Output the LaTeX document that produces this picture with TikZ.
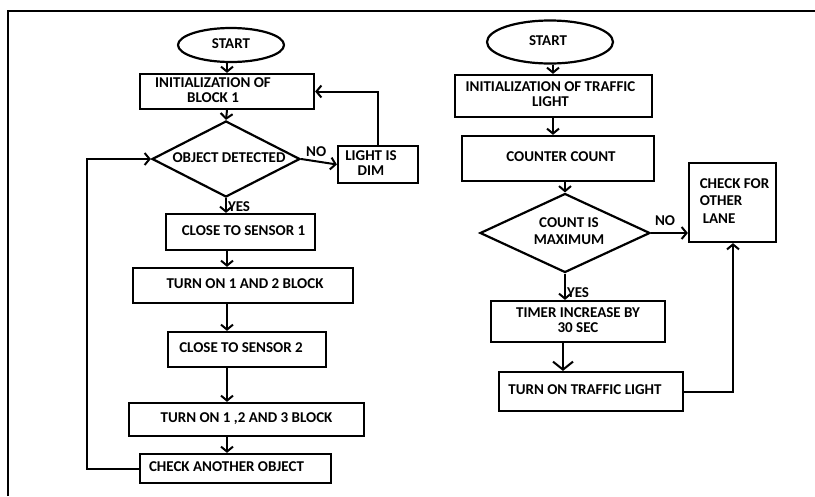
\documentclass[tikz,border=0pt]{standalone}
\usepackage{fontspec}
\setmainfont{Carlito}
\usetikzlibrary{shapes.geometric,arrows.meta}
\newcommand\sft[2]{\makebox[0pt]{\hspace*{#1}\hspace*{#1}\begin{tabular}{@{}c@{}}#2\end{tabular}}}
\newcommand\sftl[2]{\makebox[0pt]{\hspace*{#1}\hspace*{#1}\begin{tabular}{@{}l@{}}#2\end{tabular}}}
\tikzset{
  lbl/.style={font=\fontsize{15}{15}\selectfont\bfseries},
  box/.style={draw, line width=2.2pt, rectangle, inner sep=0pt, lbl},
  oval/.style={draw, line width=2.2pt, ellipse, inner sep=0pt, lbl},
  dia/.style={draw, line width=2.2pt, diamond, inner sep=0pt, lbl},
  arr/.style={line width=2pt, -{Straight Barb[length=5pt,width=12pt]}},
  bigarr/.style={line width=2pt, -{Straight Barb[length=8pt,width=20pt]}},
  tag/.style={lbl, inner sep=1pt}
}
\begin{document}
\begin{tikzpicture}[x=1pt,y=-1pt]
\useasboundingbox (0,0) rectangle (815,496);
% outer frame
\draw[line width=1.6pt] (8,496) -- (8,11) -- (815,11);

% ---------- left flow ----------
\coordinate (colL) at (227,0);
\coordinate (lx) at (87,0);
\node[oval, minimum width=106, minimum height=34] (start1) at (231,45) {\sft{0pt}{START}};
\node[box, minimum width=174, minimum height=35] (init1) at (227,91.5) {\sft{-14pt}{INITIALIZATION OF\\BLOCK 1}};
\node[dia, minimum width=148, minimum height=76] (d1) at (226,159) {\sft{3pt}{OBJECT DETECTED}};
\node[box, minimum width=80, minimum height=37] (light) at (378,164.5) {\sft{-7pt}{LIGHT IS\\DIM}};
\node[box, minimum width=149, minimum height=36] (cs1) at (240.5,232) {\sft{3pt}{CLOSE TO SENSOR 1}};
\node[box, minimum width=220, minimum height=35] (t12) at (243,285.5) {\sft{2pt}{TURN ON 1 AND 2 BLOCK}};
\node[box, minimum width=158, minimum height=35] (cs2) at (247,349.5) {\sft{-6pt}{CLOSE TO SENSOR 2}};
\node[box, minimum width=235, minimum height=33] (t123) at (246.5,419.5) {\sft{0pt}{TURN ON 1 ,2 AND 3 BLOCK}};
\node[box, minimum width=191, minimum height=29] (cao) at (235.5,468.5) {\sft{-9pt}{CHECK ANOTHER OBJECT}};

\draw[arr] (start1.south -| colL) -- (init1.north -| colL);
\draw[arr] (init1.south -| colL) -- (d1.north);
\draw[arr] (d1.east) -- node[tag, above, pos=0.42, yshift=3pt] (no1) {NO} (light.west);
\draw[arr] (light.north) |- (init1.east);
\draw[arr] (d1.south) -- node[tag, right, pos=0.55] (yes1) {YES} (cs1.north -| d1.south);
\draw[arr] (cs1.south -| colL) -- (t12.north -| colL);
\draw[arr] (t12.south -| colL) -- (cs2.north -| colL);
\draw[arr] (cs2.south -| colL) -- (t123.north -| colL);
\draw[arr] (t123.south -| colL) -- (cao.north -| colL);
\draw[arr] (cao.west) -- (cao.west -| lx) -- (d1.west -| lx) -- (d1.west);

% ---------- right flow ----------
\coordinate (colR) at (553,0);
\coordinate (colR2) at (565,0);
\coordinate (colR3) at (563,0);
\coordinate (rx) at (733,0);
\node[oval, minimum width=126, minimum height=43] (start2) at (550,42) {\sft{-2pt}{START}};
\node[box, minimum width=197, minimum height=42] (init2) at (553.5,96) {\sft{-3pt}{INITIALIZATION OF TRAFFIC\\LIGHT}};
\node[box, minimum width=192, minimum height=45] (cc) at (558,158.5) {\sft{3pt}{COUNTER COUNT}};
\node[dia, minimum width=170, minimum height=79] (d2) at (565,233) {\sft{4pt}{COUNT IS\\[2pt]MAXIMUM}};
\node[box, minimum width=87, minimum height=79] (check) at (732.5,202.5) {\sftl{2pt}{CHECK FOR\\[2.5pt]OTHER\\[2.5pt]\hspace*{3pt}LANE}};
\node[box, minimum width=174, minimum height=41] (timer) at (578,321.5) {\sft{0pt}{TIMER INCREASE BY\\30 SEC}};
\node[box, minimum width=184, minimum height=39] (tl) at (591,391.5) {\sft{-6pt}{TURN ON TRAFFIC LIGHT}};

\draw[arr] (start2.south -| colR) -- (init2.north -| colR);
\draw[arr] (init2.south -| colR) -- (cc.north -| colR);
\draw[arr] (cc.south -| colR2) -- (d2.north);
\draw[arr] (d2.east) -- node[tag, above, pos=0.38, yshift=5pt] (no2) {NO} (check.west |- d2.east);
\draw[arr] (d2.south) -- node[tag, right, pos=0.72] (yes2) {YES} (timer.north -| d2.south);
\draw[bigarr] (timer.south -| colR3) -- (tl.north -| colR3);
\draw[arr] (tl.east) -| (check.south -| rx);
\end{tikzpicture}
\end{document}
